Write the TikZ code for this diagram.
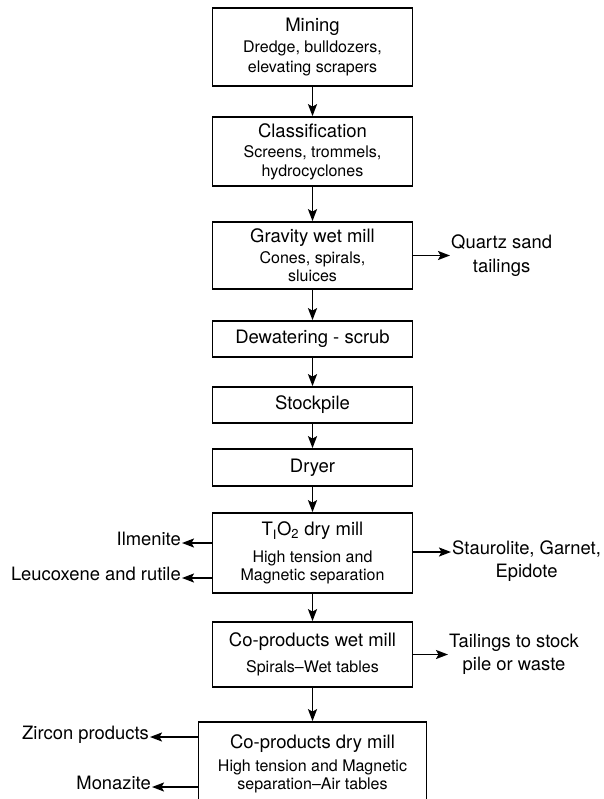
\documentclass[tikz,border=0pt]{standalone}
\usepackage{fontspec}
\setmainfont{TeX Gyre Heros}
\usetikzlibrary{arrows.meta}
% heading line of a process box
\newcommand\stagetitle[1]{{\fontsize{18.5}{22}\selectfont #1}}
\begin{document}
\begin{tikzpicture}[x=1pt,y=-1pt,
  stage/.style={draw, line width=1.7pt, minimum width=200pt, inner sep=0pt,
    align=center, font=\fontsize{16}{18.5}\selectfont},
  flow/.style={-{Stealth[length=12pt,width=9pt,inset=2.5pt]}, line width=1.8pt},
  outlabel/.style={inner sep=1pt, align=center, font=\fontsize{18.4}{24}\selectfont}]
\useasboundingbox (0,0) rectangle (603,799);
\clip (0,0) rectangle (603,799);

% main process chain
\node[stage, minimum height=78pt] (mining) at (312.5,47)
  {\stagetitle{Mining}\\[2.5pt] Dredge, bulldozers,\\[1.5pt] elevating scrapers};
\node[stage, minimum height=69pt] (class) at (312.5,151.5)
  {\stagetitle{Classification}\\[2pt] Screens, trommels,\\ hydrocyclones};
\node[stage, minimum height=67pt] (grav) at (312.5,255.5)
  {\stagetitle{Gravity wet mill}\\[2pt] Cones, spirals,\\ sluices};
\node[stage, minimum height=36pt] (dew) at (312.5,339)
  {\stagetitle{Dewatering - scrub}};
\node[stage, minimum height=36pt] (stock) at (312.5,405)
  {\stagetitle{Stockpile}};
\node[stage, minimum height=37pt] (dryer) at (312.5,467.5)
  {\stagetitle{Dryer}};
\node[stage, minimum height=80pt] (tio) at (312.5,553)
  {\stagetitle{T\textsubscript{I}O\textsubscript{2} dry mill}\\[8pt] High tension and\\ Magnetic separation};
\node[stage, minimum height=65pt] (wet) at (312.5,654.5)
  {\stagetitle{Co-products wet mill}\\[7pt] Spirals--Wet tables};
\node[stage, minimum width=228pt, minimum height=84pt] (dry) at (312.5,764)
  {\stagetitle{Co-products dry mill}\\[4pt] High tension and Magnetic\\ separation--Air tables};

\draw[flow] (mining) -- (class);
\draw[flow] (class) -- (grav);
\draw[flow] (grav) -- (dew);
\draw[flow] (dew) -- (stock);
\draw[flow] (stock) -- (dryer);
\draw[flow] (dryer) -- (tio);
\draw[flow] (tio) -- (wet);
\draw[flow] (wet) -- (dry);

% outputs to the right
\node[outlabel, anchor=west] (quartz) at (450,255.5) {Quartz sand\\ tailings};
\draw[flow] (grav.east) -- (quartz.west);

\node[outlabel, anchor=mid west, font=\fontsize{18.4}{23}\selectfont] (stau) at (451,552)
  {\begin{tabular}[t]{@{}c@{}}Staurolite, Garnet,\\ Epidote\end{tabular}};
\draw[flow] (tio.east |- stau.mid west) -- (stau.mid west);

\node[outlabel, anchor=west, font=\fontsize{18.4}{23}\selectfont] (tail) at (448,654.5) {Tailings to stock\\ pile or waste};
\draw[flow] (wet.east) -- (tail.west);

% outputs to the left
\node[outlabel, anchor=mid east] (ilm) at (182,543) {Ilmenite};
\draw[flow] (tio.west |- ilm.mid east) -- (ilm.mid east);
\node[outlabel, anchor=mid east] (leu) at (182,578) {Leucoxene and rutile};
\draw[flow] (tio.west |- leu.mid east) -- (leu.mid east);

\node[outlabel, anchor=mid east] (zir) at (150,737) {Zircon products};
\draw[flow] (dry.west |- zir.mid east) -- (zir.mid east);
\node[outlabel, anchor=mid east] (mon) at (152,787) {Monazite};
\draw[flow] (dry.west |- mon.mid east) -- (mon.mid east);
\end{tikzpicture}
\end{document}
